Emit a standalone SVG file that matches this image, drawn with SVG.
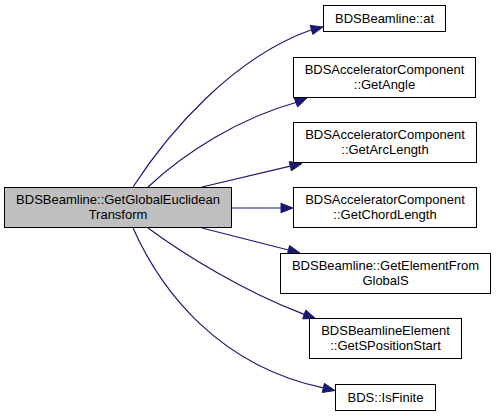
<svg xmlns="http://www.w3.org/2000/svg" width="496" height="416" viewBox="0 0 496 416">
<style>
.n rect{fill:#ffffff;stroke:#000000;stroke-width:1}
.n.main rect{fill:#bfbfbf}
.n text{font-family:"Liberation Sans",Arial,Helvetica,sans-serif;font-size:13px;fill:#000000;text-anchor:middle}
#edges path{fill:none;stroke:#191970;stroke-width:1.2}
#edges polygon{fill:#191970;stroke:#191970;stroke-width:1}
</style>
<rect x="0" y="0" width="496" height="416" fill="#ffffff"/>
<g id="edges">
<path d="M133,187 C168,133 232,58 311.5,29.8"/>
<polygon points="323,27 312.85,34.4 310.15,25.4"/>
<path d="M148,187 C185,152 240,118 295.9,102.5"/>
<polygon points="307,98 297.6,106.9 294.2,98.1"/>
<path d="M202,187 L290.3,166.2"/>
<polygon points="302,163.5 291.4,170.8 289.2,161.6"/>
<path d="M232,208 L281,208"/>
<polygon points="293,208 281,212.7 281,203.3"/>
<path d="M202,228 L288.4,250"/>
<polygon points="300,253 287.2,254.6 289.6,245.5"/>
<path d="M148,228 C182,253 242,291 304.2,314.4"/>
<polygon points="315.5,318.5 302.6,318.8 305.8,310"/>
<path d="M133,228 C162,293 220,366 323.3,387.9"/>
<polygon points="335,390.5 322.3,392.5 324.3,383.3"/>
</g>
<g id="node0" class="n main">
<rect x="4.5" y="187.5" width="227" height="40"/>
<text x="118" y="204">BDSBeamline::GetGlobalEuclidean</text>
<text x="118" y="219">Transform</text>
</g>
<g id="node1" class="n">
<rect x="323.5" y="5.5" width="122" height="26"/>
<text x="384.5" y="23">BDSBeamline::at</text>
</g>
<g id="node2" class="n">
<rect x="293.5" y="57.5" width="182" height="40"/>
<text x="384.5" y="74">BDSAcceleratorComponent</text>
<text x="384.5" y="89">::GetAngle</text>
</g>
<g id="node3" class="n">
<rect x="293.5" y="122.5" width="183" height="40"/>
<text x="385" y="139">BDSAcceleratorComponent</text>
<text x="385" y="154">::GetArcLength</text>
</g>
<g id="node4" class="n">
<rect x="293.5" y="187.5" width="183" height="40"/>
<text x="385" y="204">BDSAcceleratorComponent</text>
<text x="385" y="219">::GetChordLength</text>
</g>
<g id="node5" class="n">
<rect x="280.5" y="253.5" width="210" height="40"/>
<text x="385.5" y="270">BDSBeamline::GetElementFrom</text>
<text x="385.5" y="285">GlobalS</text>
</g>
<g id="node6" class="n">
<rect x="309.5" y="318.5" width="152" height="40"/>
<text x="385.5" y="335">BDSBeamlineElement</text>
<text x="385.5" y="350">::GetSPositionStart</text>
</g>
<g id="node7" class="n">
<rect x="335.5" y="384.5" width="100" height="26"/>
<text x="385.5" y="402">BDS::IsFinite</text>
</g>
</svg>
